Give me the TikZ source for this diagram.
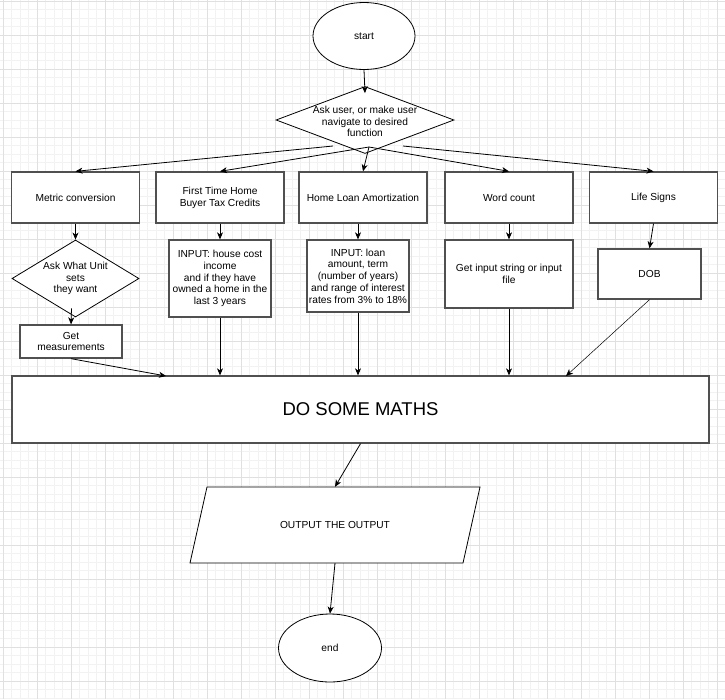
\documentclass[tikz,border=0pt]{standalone}
\usepackage{fontspec}
\setmainfont{Liberation Sans}
\usetikzlibrary{shapes.geometric}
\usetikzlibrary{arrows.meta}
\definecolor{gridminor}{HTML}{F2F2F2}
\definecolor{gridmajor}{HTML}{E0E0E0}
\definecolor{edgegray}{HTML}{505050}

\begin{document}
\begin{tikzpicture}[x=1pt,y=-1pt,
  lbl/.style={font=\fontsize{10.2}{11.8}\selectfont,align=center},
  procbox/.style={rectangle,draw=edgegray,line width=1.3pt,fill=white,inner sep=0pt,lbl},
  decision/.style={diamond,draw=black,line width=0.8pt,fill=white,inner sep=0pt},
  terminal/.style={ellipse,draw=black,line width=0.8pt,fill=white,inner sep=0pt,lbl},
  flow/.style={draw=black,line width=0.8pt,-{Stealth[length=7pt,width=6pt,inset=2pt]}}]
\useasboundingbox (0,0) rectangle (725,699);
\fill[white] (0,0) rectangle (725,699);
% grid
\foreach \i in {0,...,85} \draw[gridminor,line width=0.6pt] ({3+8.5*\i},0) -- ({3+8.5*\i},699);
\foreach \j in {0,...,82} \draw[gridminor,line width=0.6pt] (0,{1+8.5*\j}) -- (725,{1+8.5*\j});
\foreach \i in {0,...,21} \draw[gridmajor,line width=0.8pt] ({3+34*\i},0) -- ({3+34*\i},699);
\foreach \j in {0,...,20} \draw[gridmajor,line width=0.8pt] (0,{1+34*\j}) -- (725,{1+34*\j});

\node[terminal,minimum width=102pt,minimum height=67pt] (start) at (364,36) {start};
\node[decision,minimum width=178pt,minimum height=67pt] (ask) at (365,120) {};
\node[lbl] (askText) at (365,121.5) {Ask user, or make user\\navigate to desired\\function};

\node[procbox,minimum width=128pt,minimum height=51pt] (metric) at (75.5,197.5) {Metric conversion};
\node[procbox,minimum width=128pt,minimum height=51pt] (first) at (220,197.5) {First Time Home\\Buyer Tax Credits};
\node[procbox,minimum width=128pt,minimum height=51pt] (home) at (363,197.5) {Home Loan Amortization};
\node[procbox,minimum width=128pt,minimum height=51pt] (word) at (509,197.5) {Word count};
\node[procbox,minimum width=128pt,minimum height=51pt] (life) at (653.5,197.5) {Life Signs};

\node[decision,minimum width=127pt,minimum height=77pt] (unit) at (75.5,278.5) {};
\node[lbl] (unitText) at (75.5,278.5) {Ask What Unit\\sets\\they want};
\node[procbox,minimum width=102pt,minimum height=33pt] (meas) at (71,341.5) {Get\\measurements};
\node[procbox,minimum width=102pt,minimum height=77pt] (house) at (220,278.5) {INPUT: house cost\\income\\and if they have\\owned a home in the\\last 3 years};
\node[procbox,minimum width=102pt,minimum height=72pt] (loan) at (358,276) {INPUT: loan\\amount, term\\(number of years)\\and range of interest\\rates from 3\% to 18\%};
\node[procbox,minimum width=128pt,minimum height=68pt] (getin) at (509,274) {Get input string or input\\file};
\node[procbox,minimum width=103pt,minimum height=50pt] (dob) at (649.5,274) {DOB};

\node[procbox,minimum width=697pt,minimum height=67pt,font=\fontsize{18.5}{22}\selectfont] (maths) at (360.5,409.5) {DO SOME MATHS};

\draw[line width=0.8pt,fill=white] (207,487) -- (480,487) -- (463,563) -- (190,563) -- cycle;
\node[lbl,minimum width=273pt,minimum height=76pt,inner sep=0pt] (out) at (335,525) {OUTPUT THE OUTPUT};
\node[terminal,minimum width=103pt,minimum height=68pt] (stop) at (330,648) {end};

\coordinate (askL) at (333,146);
\coordinate (askM) at (369,147);
\coordinate (askR) at (403,146);
\coordinate (mathsIn1) at (166,376);
\coordinate (mathsIn5) at (566,376);

\draw[flow] (start.south) -- ([yshift=-7pt]ask.north);
\draw[flow] (askL) -- (metric.north);
\draw[flow] (askM) -- (first.north);
\draw[flow] (askM) -- (home.north);
\draw[flow] (askM) -- (word.north);
\draw[flow] (askR) -- (life.north);

\draw[flow] (metric.south) -- (unit.north);
\draw[flow] (unit.south) ++(-4,-9) -- (meas.north);
\draw[flow] (meas.south) -- (mathsIn1);
\draw[flow] (first.south) -- (house.north);
\draw[flow] (house.south) -- (house.south |- maths.north);
\draw[flow] (home.south -| loan.north) -- (loan.north);
\draw[flow] (loan.south) -- (loan.south |- maths.north);
\draw[flow] (word.south) -- (getin.north);
\draw[flow] (getin.south) -- (getin.south |- maths.north);
\draw[flow] (life.south) -- (dob.north);
\draw[flow,line width=0.5pt] (dob.south) -- (mathsIn5);

\draw[flow] (maths.south) -- (out.north);
\draw[flow] (out.south) -- (stop.north);
\end{tikzpicture}
\end{document}
